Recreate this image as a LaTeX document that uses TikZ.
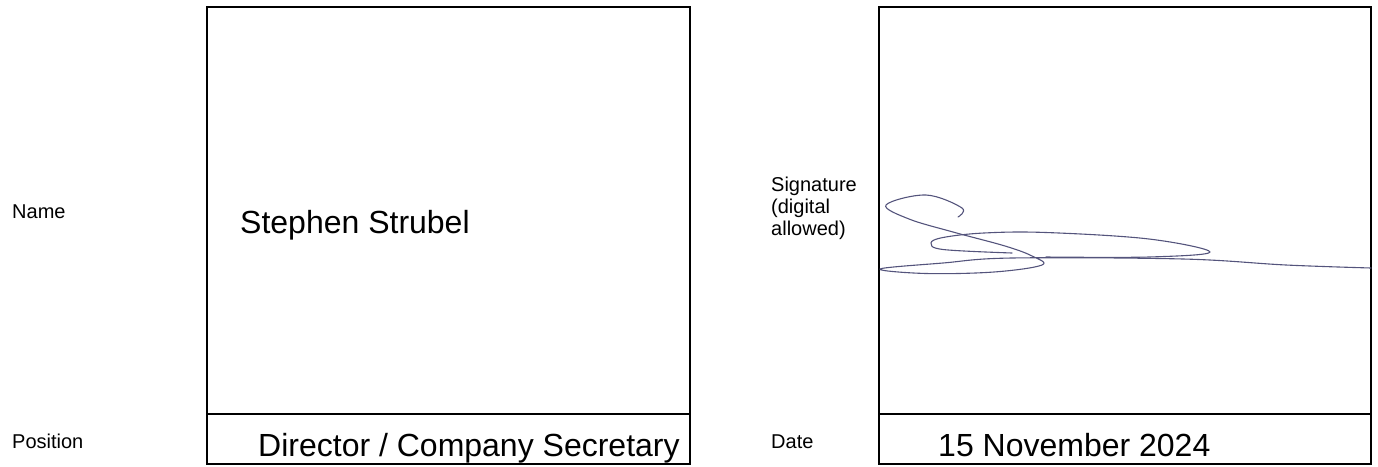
\documentclass[tikz,border=0pt]{standalone}
\usepackage{fontspec}
\setmainfont{Liberation Sans}
\definecolor{inkblue}{RGB}{84,84,124}
\begin{document}
\begin{tikzpicture}[x=1pt, y=-1pt,
		label/.style={anchor=base west, inner sep=0pt, font=\fontsize{20}{22}\selectfont},
		entry/.style={anchor=base west, inner sep=0pt, font=\fontsize{32}{36}\selectfont},
		box/.style={draw, line width=2pt},
		ink/.style={draw=inkblue, line width=1.1pt, line cap=round, line join=round}]
		\useasboundingbox (0,0) rectangle (1378,466);

		\node[label] at (12, 218) (name) {Name};
		\node[label] at (12, 448) (position) {Position};
		\node[entry] at (240, 233) (person) {Stephen Strubel};
		\node[entry] at (258, 456) (role) {Director / Company Secretary};
		\node[label, anchor=north west, align=left] at (771, 176.5) (sig) {Signature\\(digital\\allowed)};
		\node[label] at (771, 448) (date) {Date};
		\node[entry] at (938, 456) (day) {15 November 2024};

		\draw[box] (207,7) rectangle (690,464);
		\draw[box] (207,414) -- (690,414);
		\draw[box] (879,7) rectangle (1371,464);
		\draw[box] (879,414) -- (1371,414);

		% signature
		\draw[ink] plot[smooth, tension=0.6] coordinates {(958,217) (962,208) (926,195) (886,205) (909,219) (953,232) (1005,246) (1032,256) (1042,265) (994,272) (926,273.5) (880,269) (943,263) (1012,258) (1183,259) (1286,265) (1371,268)};
		\draw[ink] plot[smooth, tension=0.6] coordinates {(1012,253) (943,249.5) (931,243) (943,237.5) (984,233) (1046,232.5) (1149,239) (1210,252) (1149,257) (1046,257)};

	\end{tikzpicture}
\end{document}
